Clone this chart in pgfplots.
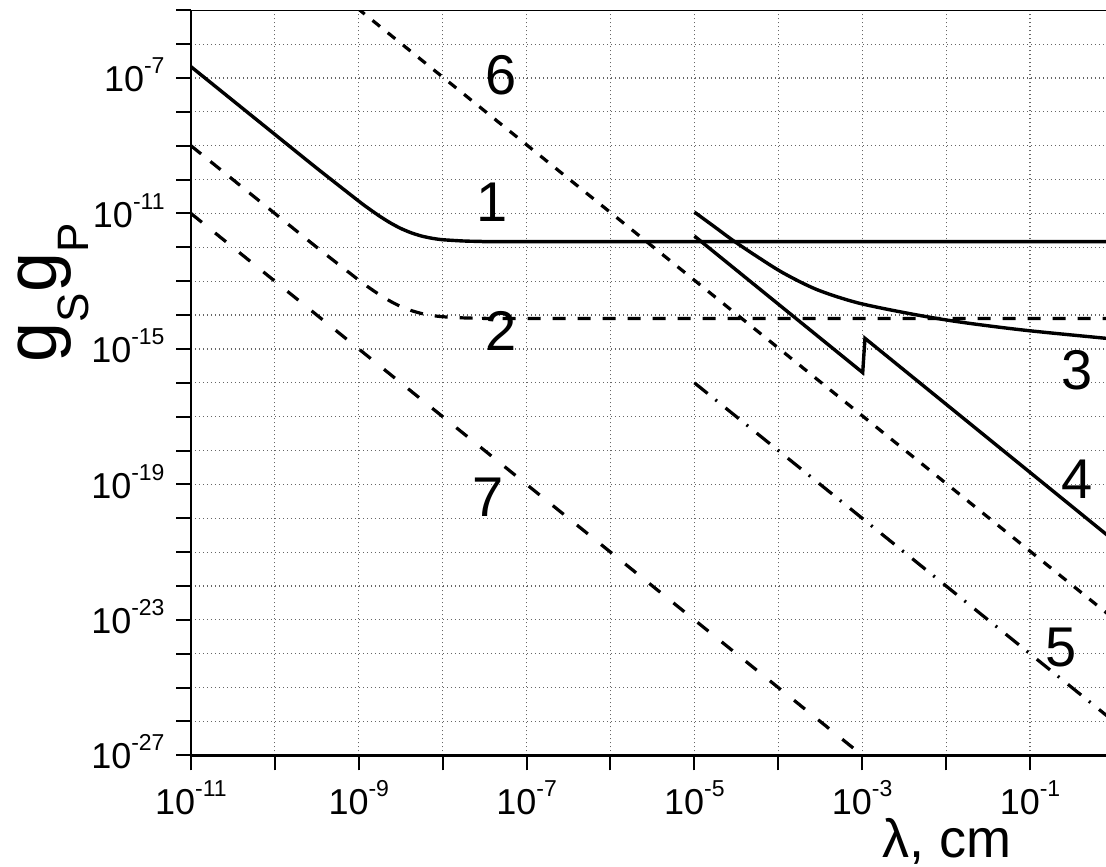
\documentclass[border=0pt]{standalone}
\usepackage{fontspec}
\setmainfont{Liberation Sans}
\usepackage{pgfplots}
\pgfplotsset{compat=1.18}
\newcommand{\tl}[1]{10\raisebox{9pt}{\fontsize{11.5}{12}\selectfont #1}}
\begin{document}
\begin{tikzpicture}
\begin{axis}[
  at={(0pt,0pt)}, anchor=south west,
  scale only axis, width=457.5pt, height=372.5pt,
  xmode=log, ymode=log,
  xmin=1e-11, xmax=0.805, ymin=1e-27, ymax=1e-5,
  axis x line*=bottom, axis y line*=left,
  axis line style={line width=1.2pt, -},
  tick align=outside, major tick length=7.5pt,
  major tick style={line width=1pt, black},
  minor tick length=0pt,
  xtick={1e-11,1e-10,1e-9,1e-8,1e-7,1e-6,1e-5,1e-4,1e-3,1e-2,1e-1},
  xticklabels={\tl{-11},,\tl{-9},,\tl{-7},,\tl{-5},,\tl{-3},,\tl{-1}},
  ytick={1e-27,1e-26,1e-25,1e-24,1e-23,1e-22,1e-21,1e-20,1e-19,1e-18,1e-17,1e-16,1e-15,1e-14,1e-13,1e-12,1e-11,1e-10,1e-9,1e-8,1e-7,1e-6,1e-5},
  yticklabels={\tl{-27},,,,\tl{-23},,,,\tl{-19},,,,\tl{-15},,,,\tl{-11},,,,\tl{-7},,},
  ticklabel style={font=\fontsize{18}{20}\selectfont},
  xticklabel style={anchor=base, yshift=-22pt},
  yticklabel style={anchor=base east, xshift=-2.2pt, yshift=-6.8pt},
  grid=major,
  major grid style={line width=0.6pt, black!60, dash pattern=on 0.6pt off 1.4pt},
  xlabel={\fontsize{27}{27}\selectfont λ, cm},
  xlabel style={at={(axis description cs:0.826,-0.137)}, anchor=base},
  ylabel={\fontsize{36}{36}\selectfont g\raisebox{-16pt}{\fontsize{22}{22}\selectfont S}g\raisebox{-16pt}{\fontsize{22}{22}\selectfont P}},
  ylabel style={at={(axis description cs:-0.1475,0.621)}, anchor=base},
  no markers,
]
\draw[line width=0.6pt] (rel axis cs:0,1) -- (rel axis cs:1,1);
% curve 1
\addplot[black, line width=1.7pt, smooth, tension=0.4] coordinates {
 (1e-11,2.16e-7) (3.162e-11,2.16e-8) (1e-10,2.16e-9) (3.162e-10,2.17e-10)
 (1e-9,2.31e-11) (1.334e-9,1.36e-11) (1.778e-9,8.29e-12) (2.371e-9,5.3e-12) (3.162e-9,3.62e-12)
 (4.217e-9,2.69e-12) (5.623e-9,2.15e-12) (7.499e-9,1.85e-12)
 (1e-8,1.68e-12) (1.778e-8,1.54e-12) (3.162e-8,1.49e-12) (1e-7,1.47e-12) (1,1.47e-12)};
% curve 2
\addplot[black, line width=1.6pt, dash pattern=on 6.5pt off 6pt, smooth, tension=0.4] coordinates {
 (1e-11,1e-9) (3.162e-11,1e-10) (1e-10,1e-11) (3.162e-10,1e-12)
 (1e-9,1.08e-13) (1.334e-9,6.4e-14) (1.778e-9,3.95e-14) (2.371e-9,2.57e-14) (3.162e-9,1.79e-14)
 (4.217e-9,1.36e-14) (5.623e-9,1.11e-14) (7.499e-9,9.7e-15)
 (1e-8,8.94e-15) (1.778e-8,8.26e-15) (3.162e-8,8.04e-15) (1e-7,7.95e-15) (1,7.94e-15)};
% curve 3
\addplot[black, line width=1.7pt, smooth, tension=0.5] coordinates {
 (1e-5,1.1e-11) (1.714e-5,4.15e-12) (2.911e-5,1.578e-12) (5.534e-5,5.43e-13)
 (1.148e-4,1.746e-13) (2.871e-4,5.68e-14) (8.59e-4,2.344e-14) (3.388e-3,1.148e-14)
 (1.337e-2,6.44e-15) (8.318e-2,3.61e-15) (0.805,2.06e-15) (1,1.95e-15)};
% curve 4
\addplot[black, line width=1.7pt] coordinates {
 (1e-5,2.16e-12) (1.014e-3,2.0e-16) (1.079e-3,2.06e-15) (1,2.2e-21)};
% curve 5
\addplot[black, line width=1.6pt, dash pattern=on 8.5pt off 5pt on 1pt off 5.5pt] coordinates {
 (1e-5,1e-16) (1,1e-26)};
% curve 6
\addplot[black, line width=1.6pt, dash pattern=on 4.8pt off 5pt] coordinates {
 (6.31e-10,2.68e-5) (1,1.07e-23)};
% curve 7
\addplot[black, line width=1.6pt, dash pattern=on 7pt off 8.5pt] coordinates {
 (1e-11,1e-11) (1e-3,1e-27)};
\begin{scope}[every node/.style={inner sep=0pt, font=\fontsize{28}{28}\selectfont}]
\node at (axis cs:4.92e-8,1.227e-7) {6};
\node at (axis cs:3.87e-8,2.22e-11) {1};
\node at (axis cs:4.95e-8,3.38e-15) {2};
\node at (axis cs:3.47e-8,4.23e-20) {7};
\node at (axis cs:0.363,2.38e-16) {3};
\node at (axis cs:0.363,1.44e-19) {4};
\node at (axis cs:0.234,1.57e-24) {5};
\end{scope}
\end{axis}
\pgfresetboundingbox
\path (-95.5pt,-55.5pt) rectangle (457.5pt,377.65pt);
\end{tikzpicture}
\end{document}
